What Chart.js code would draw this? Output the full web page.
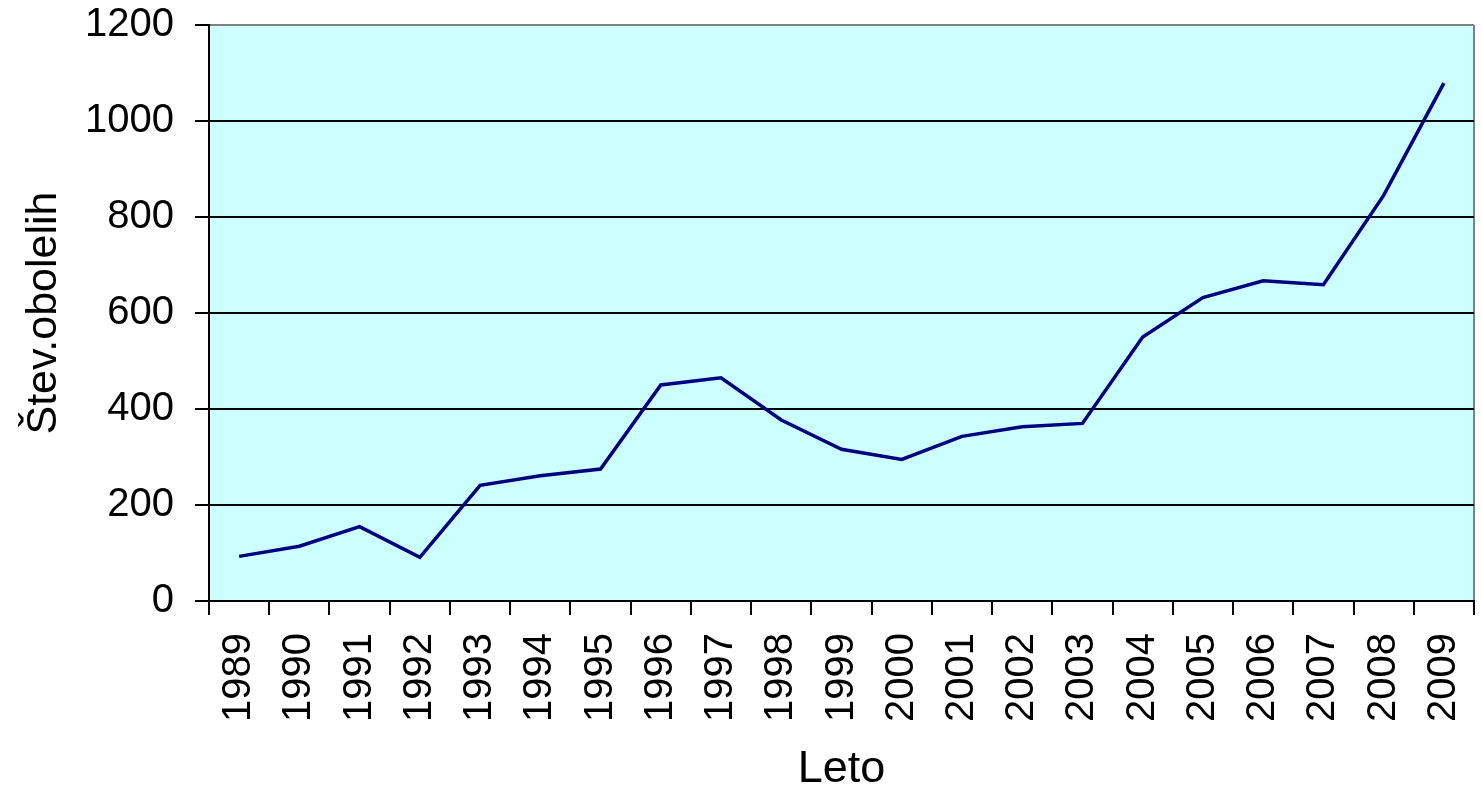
<!DOCTYPE html>
<html>
<head>
<meta charset="utf-8">
<title>Štev.obolelih po letih</title>
<script src="https://cdn.jsdelivr.net/npm/chart.js@4"></script>
<style>
  body { margin: 0; background: #fff; }
  #chart { display: block; }
</style>
</head>
<body>
<canvas id="chart" width="1482" height="794"></canvas>
<script>
const years = ["1989", "1990", "1991", "1992", "1993", "1994", "1995", "1996", "1997", "1998", "1999",
  "2000", "2001", "2002", "2003", "2004", "2005", "2006", "2007", "2008", "2009"];
const cases = [93, 114, 155, 91, 241, 261, 275, 450, 465, 377, 316,
  295, 343, 363, 370, 550, 632, 667, 659, 845, 1079];
const yMin = 0;
const yMax = 1200;
const yStep = 200;

const fontFamily = "'Liberation Sans', Arial, sans-serif";
Chart.defaults.font.family = fontFamily;
Chart.defaults.color = "#000";

// light cyan plot area
const plotBackground = {
  id: "plotBackground",
  beforeDraw(chart) {
    const { ctx, chartArea } = chart;
    ctx.save();
    ctx.fillStyle = "#CCFFFF";
    ctx.fillRect(chartArea.left, chartArea.top, chartArea.right - chartArea.left, chartArea.bottom - chartArea.top);
    ctx.restore();
  },
};

const chart = new Chart(document.getElementById("chart"), {
  type: "line",
  data: {
    labels: years,
    datasets: [
      {
        label: "Štev.obolelih",
        data: cases,
        borderColor: "#000080",
        borderWidth: 3.5,
        pointRadius: 0,
        tension: 0,
        fill: false,
      },
    ],
  },
  options: {
    responsive: false,
    animation: false,
    layout: {
      padding: { top: 25, right: 8, left: 0, bottom: 0 },
    },
    plugins: {
      legend: { display: false },
      tooltip: { enabled: false },
    },
    scales: {
      x: {
        offset: true,
        afterFit(scale) {
          scale.height = 193;
          scale.paddingLeft = 0;
          scale.paddingRight = 0;
        },
        grid: {
          offset: true,
          drawOnChartArea: true,
          // only the right edge is drawn inside, in grey
          color: (ctx) => (ctx.tick ? "rgba(0,0,0,0)" : "#808080"),
          tickColor: "#000",
          lineWidth: 2,
          tickLength: 14,
        },
        border: { color: "#000", width: 2 },
        ticks: {
          autoSkip: false,
          minRotation: 90,
          maxRotation: 90,
          padding: 18,
          font: { size: 40 },
        },
        title: {
          display: true,
          text: "Leto",
          font: { size: 45, lineHeight: 1 },
          padding: { top: 0, bottom: 2 },
        },
      },
      y: {
        min: yMin,
        max: yMax,
        afterFit(scale) {
          scale.width = 209;
          scale.paddingTop = 0;
          scale.paddingBottom = 0;
        },
        grid: {
          color: (ctx) => (ctx.tick && ctx.tick.value === yMax ? "#808080" : "#000"),
          tickColor: "#000",
          lineWidth: 2,
          tickLength: 14,
        },
        border: { color: "#000", width: 2 },
        ticks: {
          stepSize: yStep,
          padding: 21,
          font: { size: 40 },
          callback: (value) => String(value),
        },
        title: {
          display: true,
          text: "Štev.obolelih",
          font: { size: 43, lineHeight: 1 },
          padding: { top: 23, bottom: 0 },
        },
      },
    },
  },
  plugins: [plotBackground],
});
</script>
</body>
</html>
